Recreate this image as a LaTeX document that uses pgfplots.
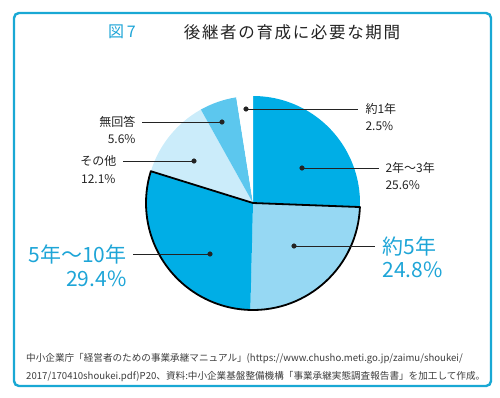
\documentclass[border=0pt]{standalone}
\usepackage{pgfplots}
\pgfplotsset{compat=1.18}
\usepackage{fontspec}
\setmainfont{Noto Sans CJK JP}
\definecolor{cyanD}{RGB}{0,174,230}
\definecolor{cyanL}{RGB}{150,216,243}
\definecolor{cyanXL}{RGB}{203,236,250}
\definecolor{cyanM}{RGB}{92,199,238}
\definecolor{frameC}{RGB}{25,168,212}
\definecolor{labC}{RGB}{30,165,215}
\definecolor{txt}{RGB}{35,35,35}
\definecolor{note}{RGB}{60,60,60}
% data (percent), clockwise from 12 o'clock
\def\vA{25.6}% 2年〜3年
\def\vB{24.8}% 約5年
\def\vC{29.4}% 5年〜10年
\def\vD{12.1}% その他
\def\vE{5.6}%  無回答
\def\vF{2.5}%  約1年
\begin{document}
\begin{tikzpicture}
\pgfmathsetmacro\aA{90}
\pgfmathsetmacro\aB{\aA-3.6*\vA}
\pgfmathsetmacro\aC{\aB-3.6*\vB}
\pgfmathsetmacro\aD{\aC-3.6*\vC}
\pgfmathsetmacro\aE{\aD-3.6*\vD}
\pgfmathsetmacro\aF{\aE-3.6*\vE}
\pgfmathsetmacro\aG{\aF-3.6*\vF}
\def\R{107pt}
\begin{axis}[x=1pt,y=1pt,xmin=0,xmax=500,ymin=0,ymax=397,y dir=reverse,
  hide axis,clip=false,scale only axis]
\path (axis cs:0,0) rectangle (axis cs:500,397);
\draw[frameC,line width=2.4pt,rounded corners=5pt] (axis cs:14,13) rectangle (axis cs:491,386);
% title
\node[labC,font=\fontsize{16}{18}\selectfont] at (axis cs:122,32) {図\,7};
\node[txt,font=\fontsize{16.5}{18}\selectfont\addfontfeature{LetterSpace=10}] at (axis cs:292,32) {後継者の育成に必要な期間};
% pie
\coordinate (c) at (axis cs:253,203);
\fill[cyanD]  (c) -- ++(\aA:\R) arc[start angle=\aA,end angle=\aB,radius=\R] -- cycle;
\fill[cyanL]  (c) -- ++(\aB:\R) arc[start angle=\aB,end angle=\aC,radius=\R] -- cycle;
\fill[cyanD]  (c) -- ++(\aC:\R) arc[start angle=\aC,end angle=\aD,radius=\R] -- cycle;
\fill[cyanXL] (c) -- ++(\aD:\R) arc[start angle=\aD,end angle=\aE,radius=\R] -- cycle;
\fill[cyanM]  (c) -- ++(\aE:\R) arc[start angle=\aE,end angle=\aF,radius=\R] -- cycle;
\fill[white]  (c) -- ++(\aF:\R) arc[start angle=\aF,end angle=\aG,radius=\R] -- cycle;
\draw[black,line width=1.8pt,line join=round] (c) -- ++(\aB:\R) arc[start angle=\aB,end angle=\aD,radius=\R] -- cycle;
% leader lines
\addplot[txt,line width=0.8pt] coordinates {(246,109) (358,109)};
\addplot[txt,line width=0.8pt] coordinates {(302,168) (379,168)};
\addplot[txt,line width=0.8pt] coordinates {(294,246) (375,246)};
\addplot[txt,line width=0.8pt] coordinates {(210,254) (133,254)};
\addplot[txt,line width=0.8pt] coordinates {(194,161) (123,161)};
\addplot[txt,line width=0.8pt] coordinates {(222,122) (142,122)};
\addplot[only marks,mark=*,mark size=2.3pt,txt] coordinates {(246,109) (302,168) (294,246) (210,254) (194,161) (222,122)};
% labels
\begin{scope}[font=\fontsize{12}{14}\selectfont,txt]
\node[anchor=west] at (axis cs:362,109) {約1年};
\node[anchor=west] at (axis cs:362,126) {2.5\%};
\node[anchor=west] at (axis cs:382,168) {2年〜3年};
\node[anchor=west] at (axis cs:382,185) {25.6\%};
\node[anchor=east] at (axis cs:139,122) {無回答};
\node[anchor=east] at (axis cs:139,139) {5.6\%};
\node[anchor=east] at (axis cs:120,161) {その他};
\node[anchor=east] at (axis cs:119,179) {12.1\%};
\end{scope}
\begin{scope}[font=\fontsize{21}{24}\selectfont,labC]
\node[anchor=west] at (axis cs:379,246) {約5年};
\node[anchor=west] at (axis cs:379,270) {24.8\%};
\node[anchor=east] at (axis cs:130,254) {5年〜10年};
\node[anchor=east] at (axis cs:130,279) {29.4\%};
\end{scope}
% source note
\begin{scope}[font=\fontsize{9.6}{12}\selectfont,note,inner sep=0pt]
\node[anchor=west] at (axis cs:26,359) {中小企業庁「経営者のための事業承継マニュアル」(https://www.chusho.meti.go.jp/zaimu/shoukei/};
\node[anchor=west] at (axis cs:26,377) {2017/170410shoukei.pdf)P20、資料:中小企業基盤整備機構「事業承継実態調査報告書」を加工して作成。};
\end{scope}
\end{axis}
\end{tikzpicture}
\end{document}
